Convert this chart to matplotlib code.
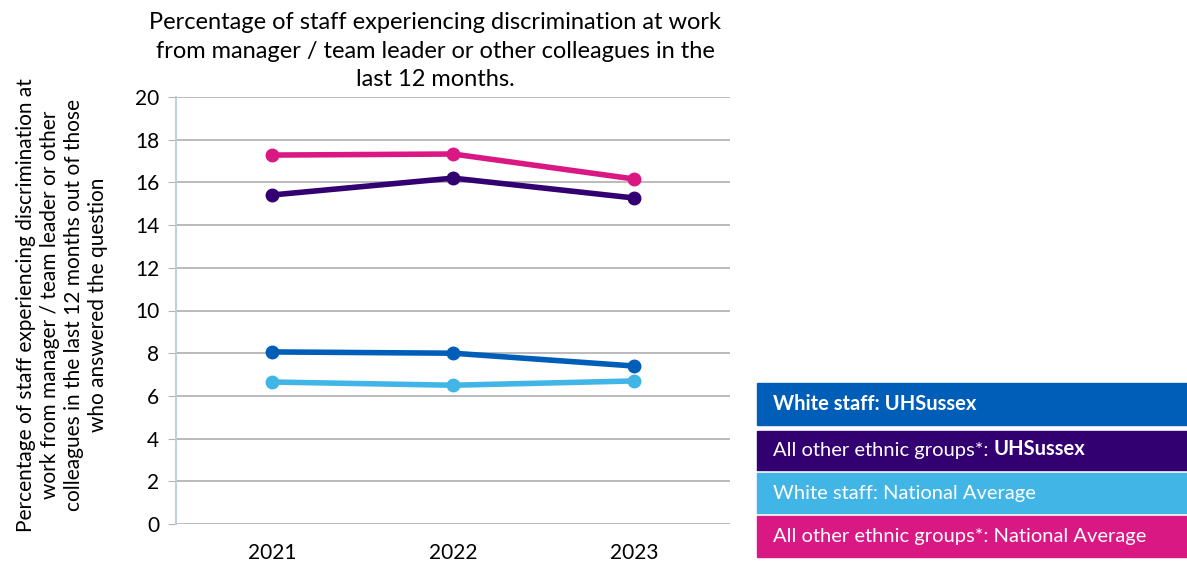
import matplotlib.pyplot as plt
from matplotlib.patches import Rectangle
from matplotlib.text import Annotation

plt.rcParams['font.family'] = ['Lato', 'DejaVu Sans']

years = ["2021", "2022", "2023"]
white_uhs = [8.06, 8.0, 7.4]
other_uhs = [15.41, 16.2, 15.27]
white_nat = [6.65, 6.5, 6.7]
other_nat = [17.28, 17.33, 16.16]

c_white_uhs = "#005EB8"
c_other_uhs = "#330072"
c_white_nat = "#41B6E6"
c_other_nat = "#DA1884"

W, H = 1187, 570
fig = plt.figure(figsize=(W / 100, H / 100), dpi=100)
# axes placed in pixel coordinates -> figure fraction
left, right, top, bottom = 176, 730, 97, 524
ax = fig.add_axes([left / W, 1 - bottom / H, (right - left) / W, (bottom - top) / H])

x = range(len(years))
for vals, col in [(white_uhs, c_white_uhs), (other_uhs, c_other_uhs),
                  (white_nat, c_white_nat), (other_nat, c_other_nat)]:
    ax.plot(x, vals, color=col, lw=4, marker="o", ms=9, solid_capstyle="round")

ax.set_xlim(-0.53, 2.53)
ax.set_ylim(0, 20)
ax.set_yticks(range(0, 21, 2))
ax.set_xticks(list(x))
ax.set_xticklabels(years)
ax.grid(axis="y", color="#b5b5b5", lw=1.3)
ax.set_axisbelow(True)
for s in ["top", "right", "bottom"]:
    ax.spines[s].set_visible(False)
ax.spines["left"].set_color("#b8ccd6")
ax.spines["left"].set_linewidth(1.3)
ax.tick_params(axis="y", length=6, color="#b5b5b5", labelsize=15, pad=6)
ax.tick_params(axis="x", length=0, labelsize=15, pad=14)

fig.text(435 / W, 1 - 51 / H,
         "Percentage of staff experiencing discrimination at work\n"
         "from manager / team leader or other colleagues in the\n"
         "last 12 months.",
         ha="center", va="center", fontsize=17, linespacing=1.42)

fig.text(62 / W, 1 - 305 / H,
         "Percentage of staff experiencing discrimination at\n"
         "work from manager / team leader or other\n"
         "colleagues in the last 12 months out of those\n"
         "who answered the question",
         ha="center", va="center", rotation=90, fontsize=15, linespacing=1.25)

# legend boxes (right side)
boxes = [
    (383, 425, c_white_uhs, [("White staff: UHSussex", "bold")]),
    (431, 470, c_other_uhs, [("All other ethnic groups*: ", "normal"), ("UHSussex", "bold")]),
    (473, 513, c_white_nat, [("White staff: National Average", "normal")]),
    (516, 557, c_other_nat, [("All other ethnic groups*: National Average", "normal")]),
]
for y0, y1, col, parts in boxes:
    fig.patches.append(Rectangle((757 / W, 1 - y1 / H), (1187 - 757) / W, (y1 - y0) / H,
                                 transform=fig.transFigure, color=col))
    t = fig.text(773 / W, 1 - (y0 + y1) / 2 / H, parts[0][0], color="white",
                 fontsize=14.5, fontweight=parts[0][1], va="center", ha="left")
    for txt, wt in parts[1:]:
        a = Annotation(txt, xy=(1, 0), xycoords=t, va="bottom", ha="left",
                       color="white", fontsize=14.5, fontweight=wt, zorder=5)
        fig.add_artist(a)
        t = a

fig.savefig("out.png", dpi=100)
